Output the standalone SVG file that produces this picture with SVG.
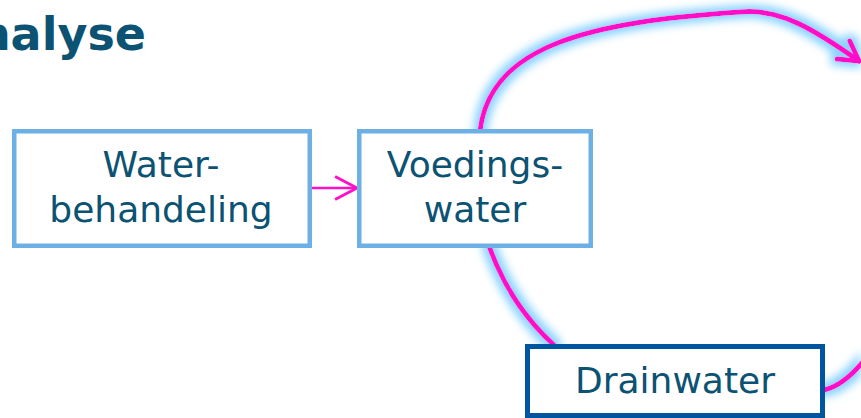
<svg xmlns="http://www.w3.org/2000/svg" width="861" height="418" viewBox="0 0 861 418">
<style>
.lbl{font-family:"DejaVu Sans","Verdana",sans-serif;font-size:36px;fill:#0b5273;text-anchor:middle}
.title{font-family:"DejaVu Sans","Verdana",sans-serif;font-size:46px;font-weight:bold;fill:#0b5273;text-anchor:end}
.lb{fill:#fff;stroke:#6cb0e6;stroke-width:4.5}
.db{fill:#fff;stroke:#0055a0;stroke-width:5}
.flow{fill:none;stroke:#ff10c8;stroke-width:5;stroke-linecap:round}
.thin{fill:none;stroke:#ff10c8;stroke-width:2.5}
</style>
<defs>
<filter id="glow" filterUnits="userSpaceOnUse" x="0" y="0" width="861" height="418">
<feMorphology in="SourceAlpha" operator="dilate" radius="4" result="d"/>
<feGaussianBlur in="d" stdDeviation="4" result="b"/>
<feFlood flood-color="#8ad2ff"/>
<feComposite in2="b" operator="in" result="g"/>
<feMerge><feMergeNode in="g"/><feMergeNode in="SourceGraphic"/></feMerge>
</filter>
<marker id="bigArrow" markerUnits="userSpaceOnUse" markerWidth="40" markerHeight="40" refX="0" refY="0" viewBox="-25 -20 30 40" orient="auto" overflow="visible">
<path d="M-19,-11 L0,0 L-19,11" fill="none" stroke="#ff10c8" stroke-width="5" stroke-linecap="round" stroke-linejoin="round"/>
</marker>
<marker id="smallArrow" markerUnits="userSpaceOnUse" markerWidth="30" markerHeight="30" refX="0" refY="0" viewBox="-22 -12 26 24" orient="auto" overflow="visible">
<path d="M-19,-10 L0,0 L-19,10" fill="none" stroke="#ff10c8" stroke-width="2.5"/>
</marker>
</defs>
<rect width="861" height="418" fill="#fff"/>
<text class="title" x="146" y="50">nalyse</text>
<g id="connectors">
<g filter="url(#glow)">
<path class="flow" d="M480,131 C490,45 590,22 740,12 C780,8 815,30 859,61" marker-end="url(#bigArrow)"/>
<path class="flow" d="M489,246 Q510,305 554,345"/>
<path class="flow" d="M824,390 Q845,385 866,358"/>
</g>
<path class="thin" d="M311,188 L357,188" marker-end="url(#smallArrow)"/>
</g>
<g id="waterbehandeling">
<rect class="lb" x="14.25" y="131.25" width="295.5" height="114.5"/>
<text class="lbl" x="161" y="177">Water-</text>
<text class="lbl" x="161" y="222">behandeling</text>
</g>
<g id="voedingswater">
<rect class="lb" x="359.25" y="131.25" width="231.5" height="114.5"/>
<text class="lbl" x="475" y="177">Voedings-</text>
<text class="lbl" x="475" y="222">water</text>
</g>
<g id="drainwater">
<rect class="db" x="527.5" y="346.5" width="295" height="69"/>
<text class="lbl" x="675" y="393">Drainwater</text>
</g>
</svg>
